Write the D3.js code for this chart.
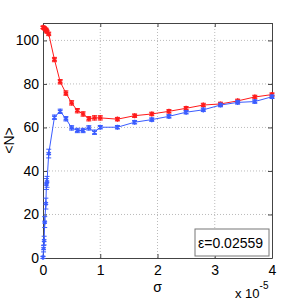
<!DOCTYPE html>
<meta charset="utf-8">
<head>
    <title>N vs sigma</title>
</head>
<style>
    body { margin: 0; background: #fff; }
    text { font-family: "Liberation Sans", Arial, Helvetica, sans-serif; }
</style>
<body>
    <svg></svg>
    <script src="https://cdn.jsdelivr.net/npm/d3@7"></script>
    <script>
        // Data (sigma in units of 1e-5)
        var sigma = [0, 0.01, 0.02, 0.03, 0.05, 0.06, 0.07, 0.1, 0.2, 0.3, 0.4, 0.5, 0.6, 0.7, 0.8, 0.9, 1.0,
                     1.3, 1.6, 1.9, 2.2, 2.5, 2.8, 3.1, 3.4, 3.7, 4.0];
        var redN = [106, 105.9, 105.7, 105.4, 105, 104.5, 104, 103, 91.2, 81, 75.8, 71.3, 67.7, 66.2, 64, 64.4, 64.4,
                    63.8, 65.4, 66.2, 67.4, 68.8, 70.3, 70.8, 72.2, 74, 75.1];
        var redErr = [0.6, 0.6, 0.6, 0.6, 0.7, 0.7, 0.7, 0.8, 1, 1, 1, 1, 1, 1, 1, 1, 1,
                      0.8, 0.8, 0.8, 0.8, 0.8, 0.8, 0.8, 0.8, 0.8, 0.8];
        var blueN = [0.3, 4.3, 8, 16.5, 25, 34, 35, 48, 64.7, 67.4, 64, 59.8, 58.6, 58.6, 59.8, 57.8, 60.1,
                     60.1, 62.4, 63.6, 65.1, 67, 68.1, 70.3, 71.5, 71.9, 74.1];
        var blueErr = [0.5, 1.5, 2, 2.5, 2.5, 2.5, 2.5, 2, 1, 1, 1, 1, 1, 1, 1, 1, 0.8,
                       0.8, 0.8, 0.8, 0.8, 0.8, 0.8, 0.8, 0.8, 0.8, 0.8];
        var xTicks = [0, 1, 2, 3, 4];
        var yTicks = [0, 20, 40, 60, 80, 100];
        var legendText = "ε=0.02559";

        var width = 300, height = 300;
        var margin = { left: 43, right: 28, top: 23, bottom: 42 };
        var x0 = margin.left, x1 = width - margin.right;
        var y0 = height - margin.bottom, y1 = margin.top;

        var svg = d3.select('svg').attr('width', width).attr('height', height);

        var x = d3.scaleLinear().domain([0, 4]).range([x0, x1]);
        var y = d3.scaleLinear().domain([0, 108]).range([y0, y1]);

        // grid
        var grid = svg.append('g');
        grid.selectAll('.gx').data(xTicks.slice(1, -1)).enter().append('line')
            .attr('x1', d => x(d)).attr('x2', d => x(d)).attr('y1', y0).attr('y2', y1)
            .attr('stroke', '#bbb').attr('stroke-dasharray', '1,2');
        grid.selectAll('.gy').data(yTicks.slice(1)).enter().append('line')
            .attr('y1', d => y(d)).attr('y2', d => y(d)).attr('x1', x0).attr('x2', x1)
            .attr('stroke', '#bbb').attr('stroke-dasharray', '1,2');

        // axes (matlab box, inward ticks)
        var fmt = d3.format('d');
        var axB = svg.append('g').attr('transform', `translate(0,${y0})`)
            .call(d3.axisBottom(x).tickValues(xTicks).tickFormat(fmt).tickSizeInner(-4).tickSizeOuter(0).tickPadding(7));
        var axT = svg.append('g').attr('transform', `translate(0,${y1})`)
            .call(d3.axisTop(x).tickValues(xTicks).tickSizeInner(-4).tickSizeOuter(0).tickFormat(''));
        var axL = svg.append('g').attr('transform', `translate(${x0},0)`)
            .call(d3.axisLeft(y).tickValues(yTicks).tickFormat(fmt).tickSizeInner(-4).tickSizeOuter(0).tickPadding(4));
        var axR = svg.append('g').attr('transform', `translate(${x1},0)`)
            .call(d3.axisRight(y).tickValues(yTicks).tickSizeInner(-4).tickSizeOuter(0).tickFormat(''));
        [axB, axT, axL, axR].forEach(a => {
            a.select('.domain').attr('stroke', '#444');
            a.selectAll('.tick line').attr('stroke', '#444');
            a.selectAll('text').attr('font-size', 14).attr('fill', '#000')
                .attr('font-family', '"Liberation Sans", Arial, sans-serif');
        });

        var line = d3.line().x(d => x(d[0])).y(d => y(d[1]));

        function drawSeries(vals, errs, color) {
            var pts = sigma.map((s, i) => [s, vals[i], errs[i]]);
            var g = svg.append('g');
            g.append('path').attr('d', line(pts)).attr('fill', 'none')
                .attr('stroke', color).attr('stroke-width', 1);
            var eb = g.selectAll('.eb').data(pts).enter().append('g');
            eb.append('line').attr('x1', d => x(d[0])).attr('x2', d => x(d[0]))
                .attr('y1', d => y(d[1] - d[2])).attr('y2', d => y(d[1] + d[2]))
                .attr('stroke', color).attr('stroke-width', 1);
            [-1, 1].forEach(sg => {
                eb.append('line').attr('x1', d => x(d[0]) - 2.5).attr('x2', d => x(d[0]) + 2.5)
                    .attr('y1', d => y(d[1] + sg * d[2])).attr('y2', d => y(d[1] + sg * d[2]))
                    .attr('stroke', color).attr('stroke-width', 1);
            });
            var sym = d3.symbol().type(d3.symbolAsterisk).size(18);
            g.selectAll('.m').data(pts).enter().append('path')
                .attr('d', sym)
                .attr('transform', d => `translate(${x(d[0])},${y(d[1])})`)
                .attr('fill', 'none').attr('stroke', color).attr('stroke-width', 1.4);
        }
        drawSeries(redN, redErr, '#ff1a1a');
        drawSeries(blueN, blueErr, '#3a5cff');

        // labels
        svg.append('text').attr('x', x(2)).attr('y', 292).attr('text-anchor', 'middle')
            .attr('font-size', 14).text('σ');
        svg.append('text').attr('transform', `translate(14,${(y0 + y1) / 2}) rotate(-90)`)
            .attr('text-anchor', 'middle').attr('font-size', 14).text('<N>');
        var ex = svg.append('text').attr('x', 235).attr('y', 298).attr('font-size', 13);
        ex.append('tspan').text('x 10');
        ex.append('tspan').attr('dy', -9).attr('font-size', 10).text('-5');

        // legend
        svg.append('rect').attr('x', 195).attr('y', 229).attr('width', 74).attr('height', 27)
            .attr('fill', '#fff').attr('stroke', '#777');
        svg.append('text').attr('x', 198).attr('y', 248).attr('font-size', 14).text(legendText);
    </script>
</body>
</html>
